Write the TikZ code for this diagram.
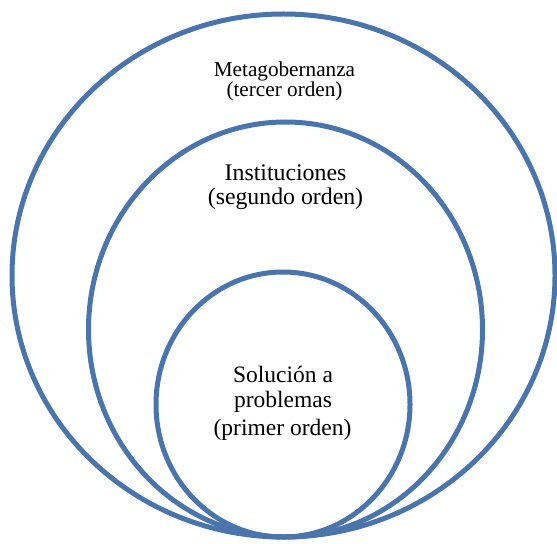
\documentclass[tikz,border=0pt]{standalone}
\usepackage{fontspec}
\setmainfont{Liberation Serif}
\definecolor{ringblue}{RGB}{73,116,172}
\begin{document}
\begin{tikzpicture}[x=1bp,y=-1bp,
  ring/.style={draw=ringblue,line width=5bp},
  outerlbl/.style={anchor=base,inner sep=0pt,font=\fontsize{21.2bp}{24bp}\selectfont},
  midlbl/.style={anchor=base,inner sep=0pt,font=\fontsize{23.8bp}{26bp}\selectfont},
  innerlbl/.style={anchor=base,inner sep=0pt,font=\fontsize{23.5bp}{26bp}\selectfont}]
  \useasboundingbox (0,0) rectangle (557,544);

  % three nested rings, all touching at the bottom
  \draw[ring] (283.5,275.5) ellipse [x radius=271.5, y radius=261.5];
  \draw[ring] (285.5,329.5) ellipse [x radius=197, y radius=207.5];
  \draw[ring] (283,404.5) ellipse [x radius=127, y radius=132.5];

  % third order
  \node[outerlbl] (meta)  at (284.5,77) {Metagobernanza};
  \node[outerlbl] (meta2) at (284.5,97) {(tercer orden)};

  % second order
  \node[midlbl] (inst)  at (285.5,181) {Instituciones};
  \node[midlbl] (inst2) at (285.5,205) {(segundo orden)};

  % first order
  \node[innerlbl] (sol)  at (283,382) {Solución a};
  \node[innerlbl] (sol2) at (283,407) {problemas};
  \node[innerlbl] (sol3) at (282.5,435) {(primer orden)};
\end{tikzpicture}
\end{document}
